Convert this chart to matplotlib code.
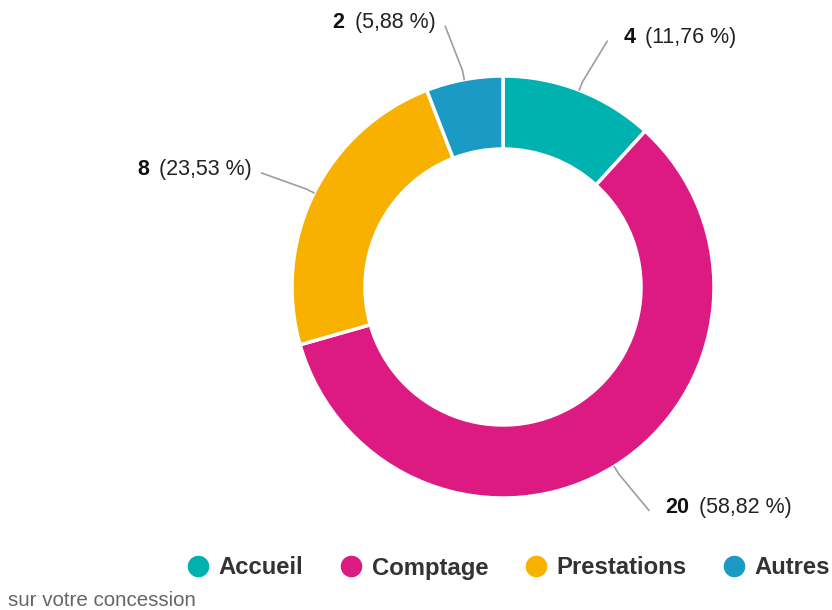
import numpy as np
import matplotlib
matplotlib.use("Agg")
import matplotlib.pyplot as plt
from matplotlib.lines import Line2D

plt.rcParams["font.family"] = ["Liberation Sans", "DejaVu Sans"]

# --- data ---
categories = ["Accueil", "Comptage", "Prestations", "Autres"]
counts = [4, 20, 8, 2]
colors = ["#00b2af", "#dc1a82", "#f8b100", "#1a9ac5"]
footer = "sur votre concession"

# small angular nudges (deg) for label leader ends, to keep labels clear
label_nudge = [-1.8, 1.4, 1.2, 1.9]

W, H = 832, 610
fig = plt.figure(figsize=(W / 100, H / 100), dpi=100)
ax = fig.add_axes([0, 0, 1, 1])

cx, cy = 503, H - 287
R = 211
wedges, _ = ax.pie(counts, colors=colors, startangle=90, counterclock=False,
                   radius=R, center=(cx, cy), frame=True,
                   wedgeprops=dict(width=73, edgecolor="white", linewidth=2.5))
ax.set_xlim(0, W)
ax.set_ylim(0, H)
ax.axis("off")

renderer = fig.canvas.get_renderer()
total = sum(counts)
for w, n, nudge in zip(wedges, counts, label_nudge):
    mid = np.deg2rad((w.theta1 + w.theta2) / 2)
    end_ang = mid + np.deg2rad(nudge)
    p0 = (cx + R * np.cos(mid), cy + R * np.sin(mid))
    p1 = (cx + 220 * np.cos(mid), cy + 220 * np.sin(mid))
    p2 = (cx + 267 * np.cos(end_ang), cy + 267 * np.sin(end_ang))
    ax.plot([p0[0], p1[0], p2[0]], [p0[1], p1[1], p2[1]],
            color="#9c9ca8", lw=1.2, solid_capstyle="round")

    pct = f"({100 * n / total:.2f} %)".replace(".", ",")
    ty = p2[1] + 3.5
    if np.cos(end_ang) >= 0:
        tb = ax.text(p2[0] + 16, ty, str(n), fontsize=15.5, fontweight="bold",
                     color="#111111", ha="left", va="center")
        bb = tb.get_window_extent(renderer)
        ax.text(bb.x1 + 10, ty, pct, fontsize=15.5, color="#222222",
                ha="left", va="center")
    else:
        tp = ax.text(p2[0] - 10, ty, pct, fontsize=15.5, color="#222222",
                     ha="right", va="center")
        bb = tp.get_window_extent(renderer)
        ax.text(bb.x0 - 10, ty, str(n), fontsize=15.5, fontweight="bold",
                color="#111111", ha="right", va="center")

handles = [Line2D([], [], marker="o", ls="", markersize=14.5,
                  markerfacecolor=c, markeredgecolor=c) for c in colors]
fig.legend(handles, categories, loc="center right",
           bbox_to_anchor=(830 / W, 1 - 568 / H), ncol=4, frameon=False,
           prop={"weight": "bold", "size": 17.2}, labelcolor="#333333",
           handlelength=0.8, handletextpad=0.45, columnspacing=1.6,
           borderaxespad=0, borderpad=0)

fig.text(8 / W, 1 - 601 / H, footer, fontsize=14.8, color="#666666",
         ha="left", va="center")

fig.savefig("out.png", dpi=100)
